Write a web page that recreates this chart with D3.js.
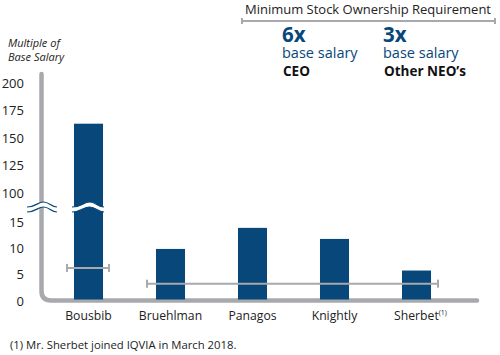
<!DOCTYPE html>
<html><head><meta charset="utf-8">
<script src="https://cdn.jsdelivr.net/npm/d3@7/dist/d3.min.js"></script>
<style>body{margin:0;background:#fff}svg{display:block;font-family:"Open Sans",sans-serif}</style>
</head><body><svg id="c" width="500" height="355"></svg>
<script>
const categories = ["Bousbib","Bruehlman","Panagos","Knightly","Sherbet"];
const values = [163, 9.6, 13.6, 11.5, 5.5];
const lowerTicks = [0,5,10,15];
const upperTicks = [100,125,150,175,200];
const ceoRequirement = 6;
const neoRequirement = 3;

const svg = d3.select("#c");
const blue = "#07477a", gray = "#a7a9ac";

const x = d3.scaleBand().domain(categories).range([47.5, 457.5]).paddingInner(0.646).paddingOuter(0.323);
const yLow = d3.scaleLinear().domain([0,15]).range([299.5, 220.5]);
const yUp = d3.scaleLinear().domain([100,200]).range([193, 83]);
const yv = v => v > 15 ? yUp(v) : yLow(v);

// axis frame
svg.append("path").attr("d","M41.5,74 L41.5,291 Q41.5,300.5 51,300.5 L477,300.5")
  .attr("fill","none").attr("stroke",gray).attr("stroke-width",4.5).attr("stroke-linecap","round");

// bars
svg.selectAll("rect.bar").data(categories).join("rect")
  .attr("x", d => x(d)).attr("width", x.bandwidth())
  .attr("y", (d,i) => yv(values[i])).attr("height", (d,i) => yLow(0) - yv(values[i]))
  .attr("fill", blue);

// tick labels
const tickG = svg.append("g").attr("font-size",13).attr("fill","#222").attr("text-anchor","end");
lowerTicks.forEach(t => tickG.append("text").attr("x",24).attr("y",yLow(t)+1.5).attr("dy","0.35em").text(t));
upperTicks.forEach(t => tickG.append("text").attr("x",24).attr("y",yUp(t)).attr("dy","0.35em").text(t));

// axis break marks
function brk(x0, x1, yc){
  const w = x1 - x0, a = 2.5;
  const wave = (yy) => `M${x0},${yy+a} C${x0+w*0.3},${yy+a} ${x0+w*0.35},${yy-a} ${x0+w*0.55},${yy-a} C${x0+w*0.75},${yy-a} ${x0+w*0.8},${yy+a} ${x1},${yy+a}`;
  const top = yc-2.5, bot = yc+2.5;
  svg.append("path").attr("d", wave(top) + ` L${x1},${bot+a} C${x0+w*0.8},${bot+a} ${x0+w*0.75},${bot-a} ${x0+w*0.55},${bot-a} C${x0+w*0.35},${bot-a} ${x0+w*0.3},${bot+a} ${x0},${bot+a} Z`)
    .attr("fill","#fff");
  svg.append("path").attr("d", wave(top)).attr("fill","none").attr("stroke",blue).attr("stroke-width",1.2);
  svg.append("path").attr("d", wave(bot)).attr("fill","none").attr("stroke",blue).attr("stroke-width",1.2);
}
brk(27, 57, 207);
brk(72, 104, 207);

// requirement lines
function req(x0, x1, yy, h){
  const g = svg.append("g").attr("stroke",gray).attr("stroke-width",2);
  g.append("line").attr("x1",x0).attr("x2",x1).attr("y1",yy).attr("y2",yy);
  g.append("line").attr("x1",x0).attr("x2",x0).attr("y1",yy-h).attr("y2",yy+h);
  g.append("line").attr("x1",x1).attr("x2",x1).attr("y1",yy-h).attr("y2",yy+h);
}
const bx = x("Bousbib");
req(bx - 7, bx + x.bandwidth() + 6, yLow(ceoRequirement), 4);
req(x("Bruehlman") - 9, x("Sherbet") + x.bandwidth() + 7, yLow(neoRequirement), 4);

// category labels
const cl = svg.append("g").attr("font-size",12.2).attr("fill","#222").attr("text-anchor","middle");
categories.forEach(c => {
  const t = cl.append("text").attr("x", x(c) + x.bandwidth()/2 + (c==="Sherbet"?4:0)).attr("y",320).text(c);
  if (c === "Sherbet") t.append("tspan").attr("font-size",7).attr("dy",-5).text("(1)");
});

// y title
const yt = svg.append("g").attr("font-size",11).attr("font-style","italic").attr("fill","#222");
yt.append("text").attr("x",8).attr("y",47).text("Multiple of");
yt.append("text").attr("x",8).attr("y",61).text("Base Salary");

// header
svg.append("text").attr("x",245).attr("y",14).attr("font-size",13.5).attr("fill","#222")
  .attr("textLength",246).attr("lengthAdjust","spacingAndGlyphs").text("Minimum Stock Ownership Requirement");
req(242, 495, 21, 3);
function block(xx, big, who){
  svg.append("text").attr("x",xx).attr("y",41.5).attr("font-size",20.5).attr("font-weight","bold").attr("fill",blue).text(big);
  svg.append("text").attr("x",xx).attr("y",58).attr("font-size",14.5).attr("fill",blue).text("base salary");
  svg.append("text").attr("x",xx+1).attr("y",76).attr("font-size",13.5).attr("font-weight","bold").attr("fill","#111").text(who);
}
block(282, ceoRequirement + "x", "CEO");
block(383, neoRequirement + "x", "Other NEO\u2019s");

// footnote
svg.append("text").attr("x",10).attr("y",349).attr("font-size",11.3).attr("fill","#222").text("(1)  Mr. Sherbet joined IQVIA in March 2018.");
</script></body></html>
